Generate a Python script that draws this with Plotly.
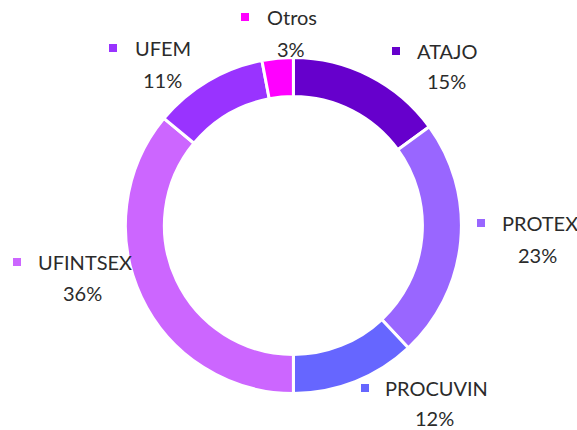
import plotly.graph_objects as go

# ---- data ----
categories = ["ATAJO", "PROTEX", "PROCUVIN", "UFINTSEX", "UFEM", "Otros"]
values = [15, 23, 12, 36, 11, 3]
colors = ["#6600CC", "#9966FF", "#6666FF", "#CC66FF", "#9933FF", "#FF00FF"]

# ---- label layout (window pixel positions of the label blocks) ----
W, H = 577, 430
# (square left x, square center y, name left x, pct center x, pct center y)
label_pos = {
    "ATAJO":    (392, 51, 415, 446, 81),
    "PROTEX":   (477, 223, 500, 537, 255),
    "PROCUVIN": (361, 388, 383, 434, 418),
    "UFINTSEX": (13, 262, 36, 82, 293),
    "UFEM":     (109, 48, 133, 162, 80),
    "Otros":    (241, 17, 265, 291, 49),
}


def px(x):
    return x / W


def py(y):
    return 1 - y / H


cx, cy, R = 293.4, 225.5, 168.0

fig = go.Figure(go.Pie(
    labels=categories,
    values=values,
    marker=dict(colors=colors, line=dict(color="white", width=3)),
    hole=0.768,
    sort=False,
    direction="clockwise",
    rotation=0,
    textinfo="none",
    hoverinfo="label+percent",
    domain=dict(x=[px(cx - R), px(cx + R)], y=[py(cy + R), py(cy - R)]),
))

total = sum(values)
font = dict(family="Lato", size=20, color="#2b2b2b")
annotations = []
shapes = []
sq = 8
for name, val, col in zip(categories, values, colors):
    sx, sy, nx, pcx, pcy = label_pos[name]
    shapes.append(dict(type="rect", xref="paper", yref="paper",
                       x0=px(sx), x1=px(sx + sq),
                       y0=py(sy + sq / 2), y1=py(sy - sq / 2),
                       fillcolor=col, line=dict(width=0)))
    annotations.append(dict(text=name, x=px(nx), y=py(sy), xref="paper", yref="paper",
                            xanchor="left", yanchor="middle", showarrow=False, font=font))
    annotations.append(dict(text=f"{round(val / total * 100)}%", x=px(pcx), y=py(pcy),
                            xref="paper", yref="paper", xanchor="center", yanchor="middle",
                            showarrow=False, font=font))

fig.update_layout(
    width=W, height=H,
    margin=dict(l=0, r=0, t=0, b=0),
    showlegend=False,
    paper_bgcolor="white",
    plot_bgcolor="white",
    annotations=annotations,
    shapes=shapes,
)

fig.write_html(
    "out.html",
    config={"displayModeBar": False},
    post_script="document.body.style.margin='0';document.body.style.overflow='hidden';",
)
